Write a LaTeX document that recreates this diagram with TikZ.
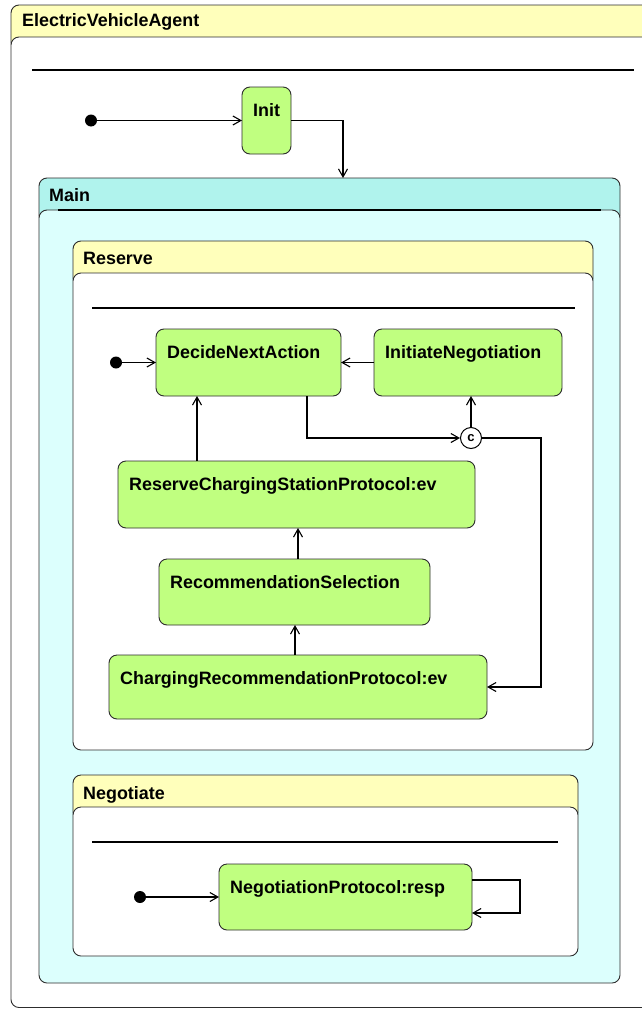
\documentclass[tikz,border=0pt]{standalone}
\usepackage{fontspec}
\setmainfont{Liberation Sans}
\usetikzlibrary{arrows.meta}
\definecolor{stgreen}{RGB}{192,255,128}
\definecolor{hdyellow}{RGB}{255,255,187}
\definecolor{hdcyan}{RGB}{176,243,237}
\definecolor{bdcyan}{RGB}{220,255,253}
\definecolor{edgegray}{RGB}{45,45,45}
\begin{document}
\begin{tikzpicture}[x=1pt,y=-1pt,
  font=\fontsize{17.9}{20}\selectfont\bfseries,
  box/.style={draw=edgegray,line width=0.9pt,rounded corners=8pt,anchor=north west,inner sep=0pt,outer sep=0pt},
  hdr/.style={box,fill=#1},
  bdy/.style={box,fill=#1},
  sep/.style={line width=1.6pt,black},
  htxt/.style={anchor=west,inner sep=0pt},
  state/.style={draw=edgegray,line width=0.9pt,fill=stgreen,rounded corners=8pt,anchor=north west,inner sep=0pt,outer sep=0pt},
  stxt/.style={anchor=north west,inner sep=0pt,xshift=11pt,yshift=-16pt},
  conn/.style={line width=1.5pt,black,-{Straight Barb[length=8pt,width=9pt,line width=1.1pt]}},
  initdot/.style={circle,fill=black,minimum size=12pt,inner sep=0pt},
  choice/.style={circle,draw=black,line width=1pt,fill=white,minimum size=21pt,inner sep=0pt,font=\fontsize{13}{13}\selectfont\bfseries}
]
\useasboundingbox (0,0) rectangle (642,1009);
\clip (0,0) rectangle (642,1009);
% outer agent
\node[hdr=hdyellow,minimum width=680pt,minimum height=45pt] (evH) at (11,5) {};
\node[bdy=white,minimum width=680pt,minimum height=970.5pt] (evB) at (11,37) {};
\node[htxt] (evT) at (22,22) {ElectricVehicleAgent};
\draw[sep] (32,70) -- (634,70);
\node[initdot] (i1) at (91,120.5) {};
\node[state,minimum width=49pt,minimum height=67pt,label={[stxt]north west:Init}] (init) at (242,87) {};
% Main
\node[hdr=hdcyan,minimum width=581pt,minimum height=45pt] (mainH) at (39,178) {};
\node[bdy=bdcyan,minimum width=581pt,minimum height=773pt] (mainB) at (39,210) {};
\node[htxt] (mainT) at (49,195.5) {Main};
\draw[sep] (58,210) -- (601,210);
\coordinate (mainIn) at (343,178);
% Reserve
\node[hdr=hdyellow,minimum width=520pt,minimum height=45pt] (resH) at (73,241) {};
\node[bdy=white,minimum width=520pt,minimum height=477pt] (resB) at (73,273) {};
\node[htxt] (resT) at (83,258.5) {Reserve};
\draw[sep] (92,308) -- (575,308);
\node[initdot] (i2) at (116,362.5) {};
\node[state,minimum width=185pt,minimum height=67pt,label={[stxt]north west:DecideNextAction}] (dna) at (156,329) {};
\node[state,minimum width=188pt,minimum height=67pt,label={[stxt]north west:InitiateNegotiation}] (inn) at (374,329) {};
\node[choice] (ch) at (471,438) {c};
\node[state,minimum width=357pt,minimum height=67pt,label={[stxt]north west:ReserveChargingStationProtocol:ev}] (rcsp) at (118,461) {};
\node[state,minimum width=271pt,minimum height=66pt,label={[stxt]north west:RecommendationSelection}] (rs) at (159,559) {};
\node[state,minimum width=378pt,minimum height=64pt,label={[stxt]north west:ChargingRecommendationProtocol:ev}] (crp) at (109,655) {};
\coordinate (rt) at (541,438);
% Negotiate
\node[hdr=hdyellow,minimum width=505pt,minimum height=45pt] (negH) at (73,775) {};
\node[bdy=white,minimum width=505pt,minimum height=149pt] (negB) at (73,807) {};
\node[htxt] (negT) at (83,794.5) {Negotiate};
\draw[sep] (92,842) -- (558,842);
\node[initdot] (i3) at (140,897) {};
\node[state,minimum width=253pt,minimum height=66pt,label={[stxt]north west:NegotiationProtocol:resp}] (np) at (219,864) {};
% connectors
\draw[conn] (i1) -- (init);
\draw[conn] (init.east) -| (mainIn);
\draw[conn] (i2) -- (dna.west);
\draw[conn] (inn.west) -- (dna.east);
\draw[conn] ([xshift=58.5pt]dna.south) |- (ch.west);
\draw[conn] (ch.north) -- (ch.north |- inn.south);
\draw[conn] (ch.east) -| (rt |- crp.east) -- (crp.east);
\draw[conn] ([xshift=-99.5pt]rcsp.north) -- ([xshift=-99.5pt]rcsp.north |- dna.south);
\draw[conn] ([xshift=3.5pt]rs.north) -- ([xshift=3.5pt]rs.north |- rcsp.south);
\draw[conn] ([xshift=-3pt]crp.north) -- ([xshift=-3pt]crp.north |- rs.south);
\draw[conn] (i3) -- (np.west);
\draw[conn] ([yshift=17pt]np.east) -- ++(48,0) |- ([yshift=-16pt]np.east);
\end{tikzpicture}
\end{document}
